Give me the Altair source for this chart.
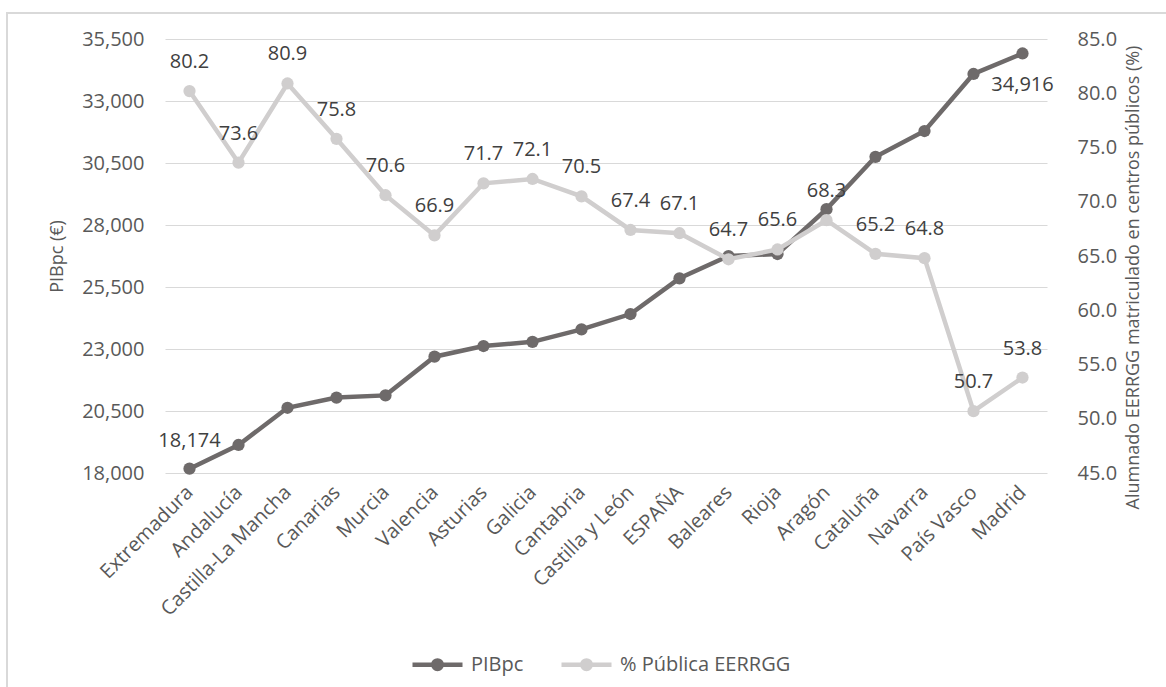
import altair as alt
import pandas as pd

# Comunidades autónomas ordenadas por PIB per cápita
regiones = [
    "Extremadura", "Andalucía", "Castilla-La Mancha", "Canarias", "Murcia",
    "Valencia", "Asturias", "Galicia", "Cantabria", "Castilla y León",
    "ESPAÑA", "Baleares", "Rioja", "Aragón", "Cataluña", "Navarra",
    "País Vasco", "Madrid",
]
# PIB per cápita (€)
pib = [18174, 19130, 20630, 21040, 21130, 22690, 23120, 23290, 23790, 24410,
       25850, 26750, 26830, 28640, 30750, 31790, 34090, 34916]
# % de alumnado de enseñanzas de régimen general en centros públicos
publica = [80.2, 73.6, 80.9, 75.8, 70.6, 66.9, 71.7, 72.1, 70.5, 67.4,
           67.1, 64.7, 65.6, 68.3, 65.2, 64.8, 50.7, 53.8]

ticks_pib = [18000, 20500, 23000, 25500, 28000, 30500, 33000, 35500]
ticks_pct = [45, 50, 55, 60, 65, 70, 75, 80, 85]

series = ["PIBpc", "% Pública EERRGG"]
colores = ["#6e6a6a", "#d0cece"]

df = pd.DataFrame({"region": regiones, "pib": pib, "publica": publica})
df["orden"] = range(len(df))

FONT = "Open Sans"
TXT = "#595959"
W, H = 882, 434

x_enc = alt.X(
    "region:N", sort=regiones, title=None,
    scale=alt.Scale(type="point", padding=0.5),
    axis=alt.Axis(labelAngle=315, labelAlign="right", labelBaseline="middle",
                  labelPadding=16, labelFontSize=20, labelColor=TXT,
                  labelFont=FONT, ticks=False, domain=False, grid=False,
                  labelOverlap=False, labelLimit=300),
)

color_enc = alt.Color(
    "serie:N",
    scale=alt.Scale(domain=series, range=colores),
    legend=alt.Legend(
        title=None, orient="none", direction="horizontal",
        legendX=245, legendY=598,
        symbolType="M-1,0L1,0M-0.17,0A0.17,0.17 0 1,0 0.17,0A0.17,0.17 0 1,0 -0.17,0Z",
        symbolSize=2500, symbolStrokeWidth=4.5,
        symbolFillColor=alt.ExprRef("scale('color', datum.value)"),
        symbolStrokeColor=alt.ExprRef("scale('color', datum.value)"),
        labelFontSize=20, labelColor=TXT, labelFont=FONT,
        labelOffset=6, columnPadding=28, labelLimit=400,
    ),
)

y_pib = alt.Y(
    "pib:Q", title="PIBpc (€)",
    scale=alt.Scale(domain=[18000, 35500], nice=False, zero=False),
    axis=alt.Axis(values=ticks_pib, labelExpr="format(datum.value, ',')",
                  orient="left",
                  labelFontSize=20, labelColor=TXT, labelFont=FONT,
                  labelPadding=21, ticks=False, domain=False,
                  grid=True, gridColor="#d9d9d9", gridWidth=1,
                  titleFontSize=18, titleColor=TXT, titleFont=FONT,
                  titleFontWeight="normal", titleAngle=270,
                  titleX=-108, titleY=217, titleAlign="center",
                  titleBaseline="middle"),
)

y_pct = alt.Y(
    "publica:Q", title="Alumnado EERRGG matriculado en centros públicos (%)",
    scale=alt.Scale(domain=[45, 85], nice=False, zero=False),
    axis=alt.Axis(values=ticks_pct, labelExpr="format(datum.value, '.1f')",
                  orient="right",
                  labelFontSize=20, labelColor=TXT, labelFont=FONT,
                  labelPadding=30, ticks=False, domain=False, grid=False,
                  titleFontSize=18, titleColor=TXT, titleFont=FONT,
                  titleFontWeight="normal", titleAngle=270,
                  titleX=86, titleY=238, titleAlign="center",
                  titleBaseline="middle"),
)

# Marco exterior del gráfico
marco = alt.Chart(alt.Data(values=[{}])).mark_rect(
    fill="transparent", stroke="#d9d9d9", strokeWidth=2
).encode(
    x=alt.value(-158), x2=alt.value(1020),
    y=alt.value(-26), y2=alt.value(680),
)

base = alt.Chart(df)

linea_pib = base.transform_calculate(serie="'PIBpc'").mark_line(
    strokeWidth=4.5,
    point=alt.OverlayMarkDef(filled=True, size=150, opacity=1),
).encode(x=x_enc, y=y_pib, color=color_enc)

etiq_ini = base.transform_filter("datum.orden == 0").mark_text(
    font=FONT, fontSize=20, color="#404040", dy=-28
).encode(x=x_enc, y=y_pib, text=alt.Text("pib:Q", format=","))

etiq_fin = base.transform_filter(f"datum.orden == {len(regiones) - 1}").mark_text(
    font=FONT, fontSize=20, color="#404040", dy=32
).encode(x=x_enc, y=y_pib, text=alt.Text("pib:Q", format=","))

capa_pib = alt.layer(linea_pib, etiq_ini, etiq_fin)

linea_pct = base.transform_calculate(serie="'% Pública EERRGG'").mark_line(
    strokeWidth=4.5,
    point=alt.OverlayMarkDef(filled=True, size=150, opacity=1),
).encode(x=x_enc, y=y_pct, color=color_enc)

etiq_pct = base.mark_text(
    font=FONT, fontSize=20, color="#404040", dy=-29
).encode(x=x_enc, y=y_pct, text=alt.Text("publica:Q", format=".1f"))

capa_pct = alt.layer(linea_pct, etiq_pct)

chart = alt.layer(marco, capa_pib, capa_pct).resolve_scale(
    y="independent"
).properties(
    width=W, height=H,
    autosize=alt.AutoSizeParams(type="none"),
    padding={"left": 165, "top": 39, "right": 119, "bottom": 214},
    background="white",
).configure_view(stroke=None)

chart.save("out.html", embed_options={"renderer": "svg", "actions": False})
